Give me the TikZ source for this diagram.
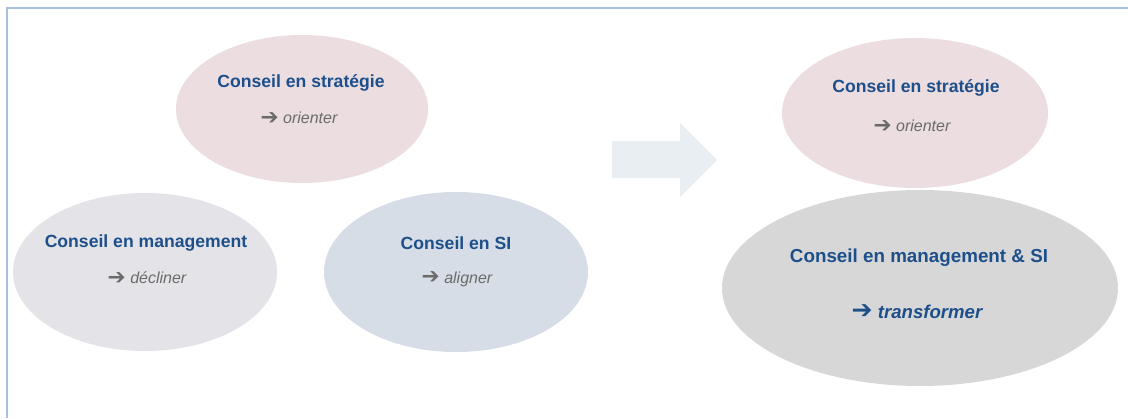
\documentclass[tikz,border=0pt]{standalone}
\usepackage{fontspec}
\setmainfont{Liberation Sans}
\newfontfamily\arrowfont{DejaVu Sans}
\usetikzlibrary{shapes.geometric}
\definecolor{cadre}{HTML}{A7BFDD}
\definecolor{rose}{HTML}{EBDDE0}
\definecolor{grisclair}{HTML}{E4E3E7}
\definecolor{bleugris}{HTML}{D6DDE6}
\definecolor{gris}{HTML}{D7D7D7}
\definecolor{flechefond}{HTML}{E9EEF3}
\definecolor{bleutitre}{HTML}{1D4F8B}
\definecolor{grisverbe}{HTML}{6B6B6B}
\newcommand{\fleche}{\raisebox{-0.5pt}{\scalebox{1.35}{\arrowfont\bfseries ➔}}}
\tikzset{
	bulle/.style={ellipse, draw=none, inner sep=0pt},
	titre/.style={font=\bfseries\fontsize{17.6}{20}\selectfont, text=bleutitre},
	verbe/.style={font=\itshape\fontsize{16}{19}\selectfont, text=grisverbe},
}
\begin{document}
\begin{tikzpicture}[x=1pt,y=-1pt]
	\useasboundingbox (0,0) rectangle (1128,418);
	\draw[cadre, line width=2pt] (7,418) -- (7,8) -- (1128,8);
	% avant
	\node[bulle, fill=rose, minimum width=252pt, minimum height=148pt] (strat) at (302,109) {};
	\node[bulle, fill=grisclair, minimum width=264pt, minimum height=158pt] (mgmt) at (145,272) {};
	\node[bulle, fill=bleugris, minimum width=264pt, minimum height=160pt] (si) at (456,272) {};
	\node[titre] (strattitre) at (301,83) {Conseil en stratégie};
	\node[verbe] (stratverbe) at (299,118) {\fleche\ orienter};
	\node[titre] (mgmttitre) at (146,243) {Conseil en management};
	\node[verbe] (mgmtverbe) at (147,278) {\fleche\ décliner};
	\node[titre] (sititre) at (456,243) {Conseil en SI};
	\node[verbe] (siverbe) at (457,279) {\fleche\ aligner};
	% fleche
	\fill[flechefond] (612,141) -- (680,141) -- (680,123) -- (717,160) -- (680,197) -- (680,178) -- (612,178) -- cycle;
	% apres
	\node[bulle, fill=rose, minimum width=266pt, minimum height=150pt] (strat2) at (915,113) {};
	\node[bulle, fill=gris, minimum width=396pt, minimum height=196pt] (mgmtsi) at (920,288) {};
	\node[titre] (strat2titre) at (916,88) {Conseil en stratégie};
	\node[verbe] (strat2verbe) at (912,126) {\fleche\ orienter};
	\node[titre, font=\bfseries\fontsize{18.8}{22}\selectfont] (mgmtsititre) at (919,258) {Conseil en management \& SI};
	\node[titre, font=\bfseries\itshape\fontsize{18.6}{22}\selectfont] (mgmtsiverbe) at (917,312) {\fleche\ transformer};
\end{tikzpicture}
\end{document}
